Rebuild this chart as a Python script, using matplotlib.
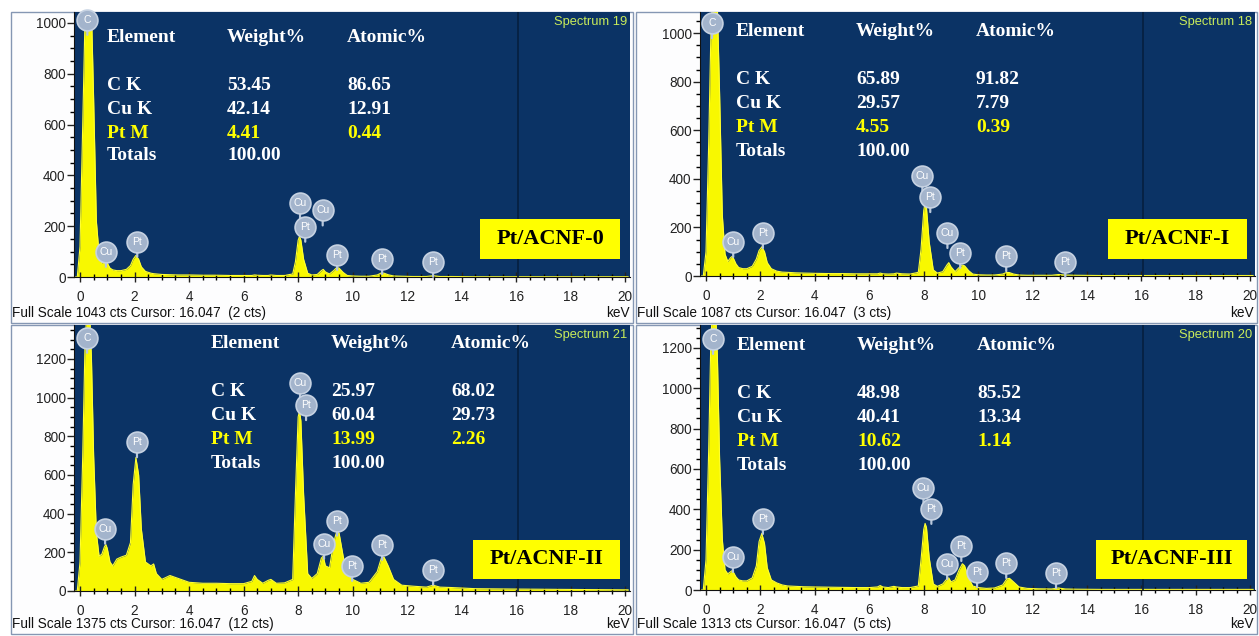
import matplotlib.pyplot as plt
from matplotlib.patches import Rectangle
from matplotlib.ticker import MultipleLocator

# shared energy axis (keV) the counts were read at
energy = [-0.2, -0.1, 0.0, 0.1, 0.18, 0.25, 0.3, 0.35, 0.42, 0.5,
          0.6, 0.7, 0.8, 0.9, 0.95, 1.0, 1.1, 1.2, 1.35, 1.5,
          1.7, 1.85, 1.95, 2.05, 2.15, 2.25, 2.4, 2.6, 2.7, 2.8,
          3.0, 3.3, 3.6, 4.0, 4.5, 5.0, 5.5, 6.0, 6.3, 6.4,
          6.5, 6.7, 6.9, 7.0, 7.2, 7.5, 7.8, 7.9, 8.0, 8.05,
          8.1, 8.2, 8.35, 8.5, 8.7, 8.85, 8.92, 9.0, 9.15, 9.3,
          9.42, 9.5, 9.65, 9.8, 10.0, 10.3, 10.6, 10.9, 11.05, 11.15,
          11.3, 11.5, 11.8, 12.2, 12.7, 12.95, 13.2, 13.6, 14.5, 16.0,
          18.0, 20.1]

counts_0 = [0, 0, 120, 600, 1000, 1100, 1100, 1100, 1050, 700,
            220, 90, 55, 60, 62, 55, 35, 28, 25, 25,
            30, 45, 70, 85, 70, 40, 22, 15, 13, 12,
            10, 9, 8, 8, 7, 7, 6, 6, 6, 8,
            7, 6, 6, 8, 6, 6, 12, 60, 145, 160,
            145, 70, 15, 8, 10, 25, 30, 20, 12, 25,
            38, 35, 18, 6, 4, 3, 3, 8, 16, 15,
            9, 4, 3, 2, 2, 5, 2, 2, 1, 1,
            1, 1]

counts_I = [0, 0, 100, 550, 1000, 1150, 1150, 1150, 1100, 750,
            250, 90, 60, 75, 80, 75, 50, 35, 30, 30,
            40, 70, 105, 120, 100, 55, 30, 20, 18, 16,
            15, 13, 12, 11, 10, 10, 9, 9, 9, 12,
            9, 8, 9, 12, 9, 8, 15, 110, 270, 300,
            280, 140, 25, 12, 18, 45, 55, 38, 18, 35,
            45, 42, 22, 8, 5, 4, 4, 8, 15, 14,
            8, 4, 3, 3, 3, 6, 4, 3, 2, 2,
            2, 2]

counts_II = [0, 0, 150, 700, 1250, 1450, 1450, 1450, 1200, 700,
             300, 180, 190, 230, 240, 220, 150, 130, 165, 175,
             185, 250, 550, 690, 600, 320, 150, 130, 140, 90,
             60, 80, 65, 45, 40, 40, 38, 38, 50, 80,
             60, 40, 55, 60, 40, 42, 60, 500, 900, 930,
             880, 500, 90, 65, 90, 170, 180, 130, 120, 250,
             310, 300, 180, 90, 60, 40, 45, 100, 170, 175,
             130, 60, 30, 25, 20, 30, 20, 18, 12, 10,
             8, 6]

counts_III = [0, 0, 150, 700, 1250, 1400, 1400, 1400, 1150, 650,
              250, 100, 80, 90, 95, 90, 65, 50, 45, 45,
              60, 120, 240, 280, 230, 110, 50, 35, 30, 25,
              20, 18, 16, 15, 14, 13, 12, 12, 15, 22,
              15, 12, 18, 15, 12, 12, 20, 150, 300, 330,
              310, 160, 30, 18, 30, 55, 60, 40, 50, 100,
              130, 120, 60, 20, 12, 8, 10, 25, 55, 58,
              40, 15, 8, 6, 5, 10, 5, 4, 3, 3,
              3, 3]

spectra = [counts_0, counts_I, counts_II, counts_III]
sample_names = ['Pt/ACNF-0', 'Pt/ACNF-I', 'Pt/ACNF-II', 'Pt/ACNF-III']
spectrum_no = [19, 18, 21, 20]
full_scale = [1043, 1087, 1375, 1313]
cursor_kev = 16.047
cursor_cts = [2, 3, 12, 5]
y_top_tick = [1000, 1000, 1200, 1200]

elements = ['C K', 'Cu K', 'Pt M', 'Totals']
weight_pct = [['53.45', '42.14', '4.41', '100.00'],
              ['65.89', '29.57', '4.55', '100.00'],
              ['25.97', '60.04', '13.99', '100.00'],
              ['48.98', '40.41', '10.62', '100.00']]
atomic_pct = [['86.65', '12.91', '0.44'],
              ['91.82', '7.79', '0.39'],
              ['68.02', '29.73', '2.26'],
              ['85.52', '13.34', '1.14']]

# peak markers: (element, keV, counts)
peaks_0 = [('C', 0.27, 1012), ('Cu', 0.95, 99), ('Pt', 2.1, 139),
           ('Cu', 8.07, 290), ('Pt', 8.26, 198), ('Cu', 8.9, 262),
           ('Pt', 9.43, 87), ('Pt', 11.08, 71), ('Pt', 12.95, 60)]
peaks_I = [('C', 0.22, 1041), ('Cu', 1.0, 140), ('Pt', 2.09, 177),
           ('Cu', 7.95, 412), ('Pt', 8.24, 325), ('Cu', 8.87, 177),
           ('Pt', 9.34, 95), ('Pt', 11.03, 82), ('Pt', 13.2, 58)]
peaks_II = [('C', 0.26, 1309), ('Cu', 0.92, 322), ('Pt', 2.09, 769),
            ('Cu', 8.07, 1075), ('Pt', 8.29, 961), ('Cu', 8.95, 244),
            ('Pt', 9.43, 364), ('Pt', 9.98, 130), ('Pt', 11.08, 239),
            ('Pt', 12.95, 109)]
peaks_III = [('C', 0.26, 1244), ('Cu', 0.99, 164), ('Pt', 2.09, 352),
             ('Cu', 7.99, 506), ('Pt', 8.28, 402), ('Cu', 8.86, 129),
             ('Pt', 9.38, 218), ('Pt', 9.96, 89), ('Pt', 11.03, 134),
             ('Pt', 12.86, 84)]
peaks = [peaks_0, peaks_I, peaks_II, peaks_III]

# layout in pixels (left, top, right, bottom)
W, H = 1259, 636
frame_px = [(11, 12, 633, 323), (636, 12, 1257, 323),
            (11, 325, 633, 634), (636, 325, 1257, 634)]
axes_px = [(74, 12, 630, 277), (700, 12, 1255, 276),
           (74, 325, 630, 591), (700, 325, 1255, 590)]
table_px = [(107, 37), (736, 32), (211, 344), (737, 346)]
box_px = [(480, 219, 620, 259), (1108, 219, 1247, 259),
          (473, 540, 620, 579), (1096, 540, 1247, 579)]

NAVY = '#0b3365'
YELLOW = '#f8f800'
SANS = 'Liberation Sans'
SERIF = 'Liberation Serif'


def fx(px):
    return px / W


def fy(py):
    return 1 - py / H


fig = plt.figure(figsize=(W / 100, H / 100), dpi=100)

for i in range(4):
    l, t, r, b = frame_px[i]
    fig.add_artist(Rectangle((fx(l), fy(b)), fx(r - l), (b - t) / H,
                             transform=fig.transFigure, facecolor='#fdfdfe',
                             edgecolor='#8597b3', lw=1, zorder=0))

    l, t, r, b = axes_px[i]
    ax = fig.add_axes([fx(l), fy(b), fx(r - l), (b - t) / H])
    ax.set_zorder(2)
    ax.set_facecolor(NAVY)
    ax.fill_between(energy, spectra[i], 0, color=YELLOW, lw=0)
    ax.plot(energy, spectra[i], color='#ffff30', lw=0.8)
    ax.axvline(cursor_kev, color='#061f3f', lw=1.2)
    ax.set_xlim(-0.22, 20.17)
    ax.set_ylim(0, full_scale[i])

    ax.xaxis.set_major_locator(MultipleLocator(2))
    ax.xaxis.set_minor_locator(MultipleLocator(0.5))
    ax.set_yticks(range(0, y_top_tick[i] + 1, 200))
    ax.yaxis.set_minor_locator(MultipleLocator(50))
    ax.tick_params(axis='x', which='major', direction='inout', length=7,
                   width=1, pad=6, labelsize=9.8, colors='#222222')
    ax.tick_params(axis='x', which='minor', direction='inout', length=4, width=1)
    ax.tick_params(axis='y', which='major', direction='out', length=5,
                   width=1, pad=1, labelsize=9.8, colors='#222222')
    ax.tick_params(axis='y', which='minor', direction='out', length=3, width=1)
    for lab in ax.get_xticklabels() + ax.get_yticklabels():
        lab.set_fontfamily(SANS)
    for side in ['top', 'right']:
        ax.spines[side].set_visible(False)
    for side in ['left', 'bottom']:
        ax.spines[side].set_color('#111111')

    for name, ex, cy in peaks[i]:
        ax.annotate('', xy=(ex, cy), xycoords='data', xytext=(0, -15),
                    textcoords='offset pixels',
                    arrowprops=dict(arrowstyle='-', color='#b8c7db', lw=1.6,
                                    shrinkA=0, shrinkB=0), zorder=4)
        ax.plot([ex], [cy], marker='o', ms=15, mfc='#a3b4cc', mec='#c6d2e2',
                mew=1.2, clip_on=False, zorder=5)
        ax.text(ex, cy, name, color='white', fontsize=7.5, family=SANS,
                ha='center', va='center', zorder=6, clip_on=False)

    # composition table
    x0, y0 = table_px[i]
    cols = [x0, x0 + 120, x0 + 240]
    rows = [y0 + 48, y0 + 72, y0 + 96, y0 + 119]
    for cx, head in zip(cols, ['Element', 'Weight%', 'Atomic%']):
        fig.text(fx(cx), fy(y0), head, color='white', fontsize=14,
                 family=SERIF, weight='bold', va='center', zorder=5)
    for k, elem in enumerate(elements):
        col = '#ffff00' if elem == 'Pt M' else 'white'
        fig.text(fx(cols[0]), fy(rows[k]), elem, color=col, fontsize=14,
                 family=SERIF, weight='bold', va='center', zorder=5)
        fig.text(fx(cols[1]), fy(rows[k]), weight_pct[i][k], color=col,
                 fontsize=14, family=SERIF, weight='bold', va='center', zorder=5)
        if k < 3:
            fig.text(fx(cols[2]), fy(rows[k]), atomic_pct[i][k], color=col,
                     fontsize=14, family=SERIF, weight='bold', va='center',
                     zorder=5)

    # sample label box
    bl, bt, br, bb = box_px[i]
    fig.add_artist(Rectangle((fx(bl), fy(bb)), fx(br - bl), (bb - bt) / H,
                             transform=fig.transFigure, facecolor='#ffff00',
                             edgecolor='none', zorder=5))
    fig.text(fx((bl + br) / 2), fy((bt + bb) / 2), sample_names[i],
             color='black', fontsize=16, family=SERIF, weight='bold',
             ha='center', va='center', zorder=6)

    # spectrum id, footer and unit
    fl, ft, fr, fb = frame_px[i]
    fig.text(fx(r - 3), fy(t + 10), 'Spectrum %d' % spectrum_no[i],
             color='#c9ec5a', fontsize=9.3, family=SANS, ha='right',
             va='center', zorder=5)
    fig.text(fx(fl + 1), fy(fb - 10),
             'Full Scale %d cts Cursor: %.3f  (%d cts)' % (full_scale[i], cursor_kev, cursor_cts[i]),
             color='#111111', fontsize=9.8, family=SANS, ha='left',
             va='center', zorder=5)
    fig.text(fx(fr - 3), fy(fb - 10), 'keV', color='#111111', fontsize=9.8,
             family=SANS, ha='right', va='center', zorder=5)

fig.savefig('out.png', dpi=100, facecolor='white')
